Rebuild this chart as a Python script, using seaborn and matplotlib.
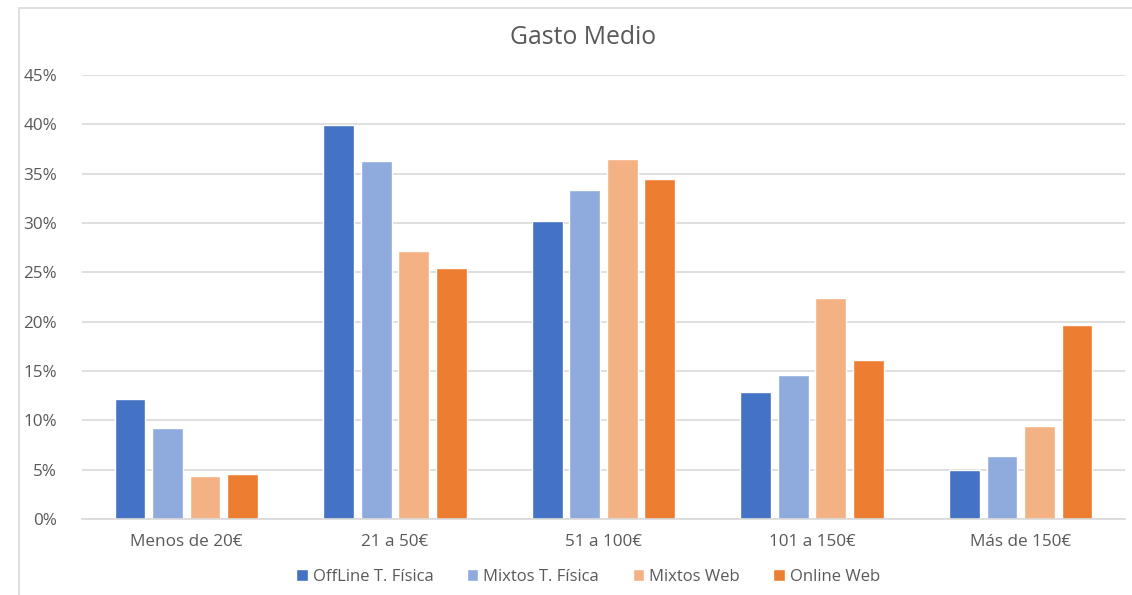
import pandas as pd
import matplotlib
matplotlib.use("Agg")
import matplotlib.pyplot as plt
import seaborn as sns
from matplotlib.patches import Rectangle
from matplotlib.ticker import PercentFormatter

categorias = ["Menos de 20€", "21 a 50€", "51 a 100€", "101 a 150€", "Más de 150€"]
series = ["OffLine T. Física", "Mixtos T. Física", "Mixtos Web", "Online Web"]
offline_tf = [12.2, 39.9, 30.2, 12.9, 5.0]
mixtos_tf = [9.2, 36.3, 33.3, 14.6, 6.4]
mixtos_web = [4.4, 27.2, 36.5, 22.4, 9.4]
online_web = [4.6, 25.4, 34.5, 16.1, 19.7]
colores = ["#4472C4", "#8FAADC", "#F4B183", "#ED7D31"]

valores = [offline_tf, mixtos_tf, mixtos_web, online_web]
rows = []
for s, vals in zip(series, valores):
    for c, v in zip(categorias, vals):
        rows.append({"Gasto": c, "Tipo": s, "Porcentaje": v})
df = pd.DataFrame(rows)

sns.set_theme(style="white")
plt.rcParams["font.family"] = ["Open Sans", "DejaVu Sans"]
gris = "#595959"

fig = plt.figure(figsize=(11.32, 5.95), dpi=100)
ax = fig.add_axes([82 / 1132, 1 - 519 / 595, (1125 - 82) / 1132, (519 - 75) / 595])

sns.barplot(data=df, x="Gasto", y="Porcentaje", hue="Tipo", order=categorias,
            hue_order=series, palette=colores, width=0.72, gap=0.18,
            saturation=1, ax=ax, legend=True)

ax.set_ylim(0, 45)
ax.set_yticks(range(0, 46, 5))
ax.yaxis.set_major_formatter(PercentFormatter(decimals=0))
ax.grid(axis="y", color="#D9D9D9", linewidth=1.2)
ax.set_axisbelow(True)
for side in ["top", "right", "left"]:
    ax.spines[side].set_visible(False)
ax.spines["bottom"].set_color("#D9D9D9")
ax.spines["bottom"].set_linewidth(1.2)
ax.set_xlabel("")
ax.set_ylabel("")
ax.tick_params(axis="both", length=0, colors=gris, labelsize=12.3)
ax.tick_params(axis="x", pad=11)
ax.tick_params(axis="y", pad=18)
for lbl in ax.get_xticklabels() + ax.get_yticklabels():
    lbl.set_color(gris)

fig.text(583 / 1132, 1 - 37 / 595, "Gasto Medio", ha="center", va="center",
         fontsize=17.8, color=gris)

handles, labels = ax.get_legend_handles_labels()
ax.get_legend().remove()
leg = fig.legend(handles, labels, loc="center", bbox_to_anchor=(588 / 1132, 1 - 577 / 595),
                 ncol=4, frameon=False, fontsize=12, handlelength=0.7, handleheight=0.7,
                 handletextpad=0.3, columnspacing=2.0)
for t in leg.get_texts():
    t.set_color(gris)

fig.patches.append(Rectangle((19 / 1132, -0.01), 1.2, 1 - 8 / 595 + 0.01,
                             transform=fig.transFigure, fill=False,
                             edgecolor="#D9D9D9", linewidth=1.2))

fig.savefig("out.png", dpi=100)
